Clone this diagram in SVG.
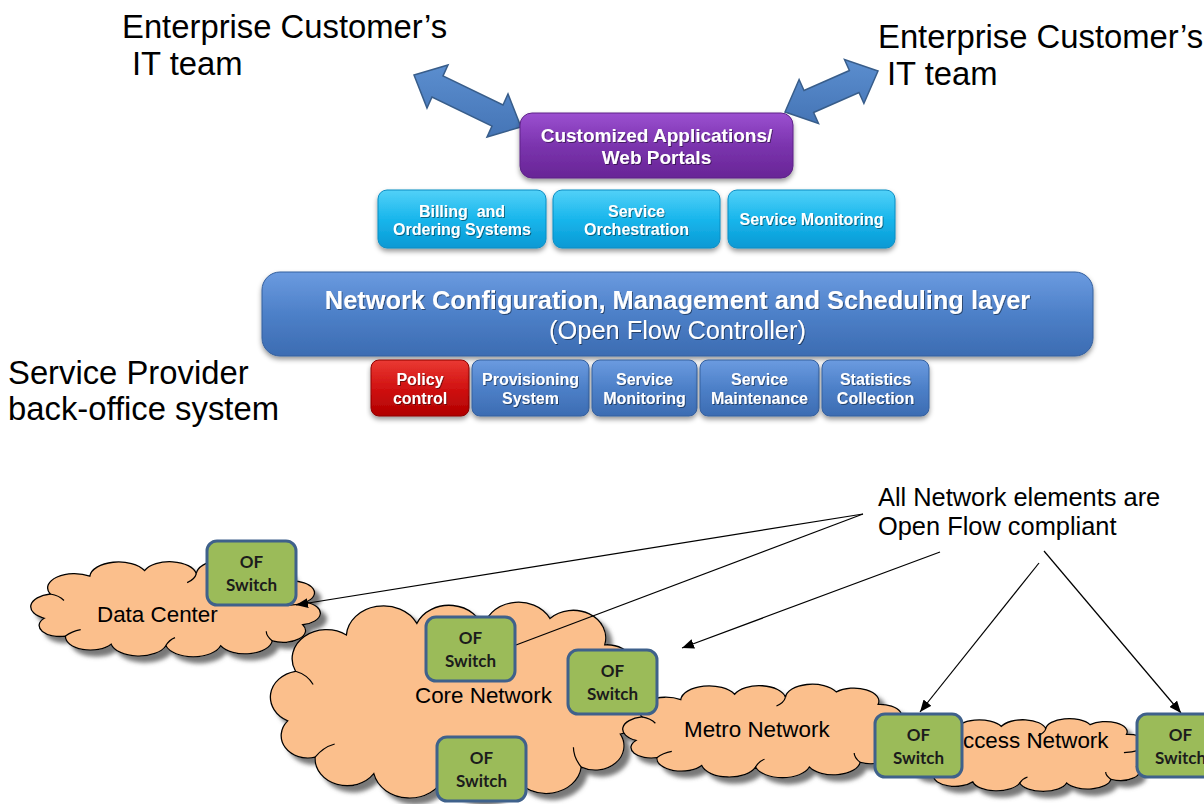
<svg xmlns="http://www.w3.org/2000/svg" width="1204" height="804" viewBox="0 0 1204 804">
  <defs>
    <style>
      .lbl { font-family: "Liberation Sans", Arial, sans-serif; fill: #000; }
      .big { font-size: 32.8px; }
      .note { font-size: 25.4px; }
      .cl { font-size: 22.4px; }
      .wb { font-family: "Liberation Sans", Arial, sans-serif; font-weight: bold; fill: #fff; text-anchor: middle; }
      .wr { font-family: "Liberation Sans", Arial, sans-serif; fill: #fff; text-anchor: middle; }
      .sw { font-family: Lato, "Open Sans", sans-serif; font-weight: bold; font-size: 17px; fill: #1c1c1c; text-anchor: middle; }
      .swbox { fill: #9bbb59; stroke: #3f618b; stroke-width: 3; }
      .cloud { fill: #fbbf8c; stroke: #000; stroke-width: 1.3; }
      .crease { fill: none; stroke: #000; stroke-width: 1.2; }
      .conn { fill: none; stroke: #000; stroke-width: 1.2; }
      .arrow2 { fill: url(#arrowGrad); stroke: #385d8a; stroke-width: 1.5; stroke-linejoin: miter; }
    </style>
    <linearGradient id="purpleGrad" x1="0" y1="0" x2="0" y2="1">
      <stop offset="0" stop-color="#9b4fd0"/>
      <stop offset="0.5" stop-color="#7b34ae"/>
      <stop offset="1" stop-color="#682596"/>
    </linearGradient>
    <linearGradient id="cyanGrad" x1="0" y1="0" x2="0" y2="1">
      <stop offset="0" stop-color="#52d1f8"/>
      <stop offset="0.5" stop-color="#19b6ec"/>
      <stop offset="1" stop-color="#0799d4"/>
    </linearGradient>
    <linearGradient id="blueGrad" x1="0" y1="0" x2="0" y2="1">
      <stop offset="0" stop-color="#6b9be0"/>
      <stop offset="0.5" stop-color="#4d80c8"/>
      <stop offset="1" stop-color="#3c6cb2"/>
    </linearGradient>
    <linearGradient id="redGrad" x1="0" y1="0" x2="0" y2="1">
      <stop offset="0" stop-color="#ea3a33"/>
      <stop offset="0.5" stop-color="#d11212"/>
      <stop offset="1" stop-color="#b00000"/>
    </linearGradient>
    <linearGradient id="arrowGrad" x1="0" y1="0" x2="0" y2="1">
      <stop offset="0" stop-color="#5b8ecf"/>
      <stop offset="1" stop-color="#4575b6"/>
    </linearGradient>
    <filter id="cloudShadow" x="-10%" y="-10%" width="130%" height="140%">
      <feDropShadow dx="6" dy="6" stdDeviation="2" flood-color="#6a6a6a" flood-opacity="0.9"/>
    </filter>
    <filter id="boxShadow" x="-5%" y="-10%" width="110%" height="140%">
      <feDropShadow dx="0" dy="3" stdDeviation="2.5" flood-color="#000" flood-opacity="0.4"/>
    </filter>
    <filter id="txtShadow" x="-5%" y="-20%" width="110%" height="150%">
      <feDropShadow dx="1" dy="1" stdDeviation="0.6" flood-color="#000" flood-opacity="0.45"/>
    </filter>
    <marker id="head" viewBox="0 0 12 10" refX="12" refY="5" markerWidth="12" markerHeight="10" markerUnits="userSpaceOnUse" orient="auto">
      <path d="M0 0 L12 5 L0 10 Z" fill="#000"/>
    </marker>
  </defs>

  <rect width="1204" height="804" fill="#fff"/>

  <!-- free-standing labels -->
  <g id="labels" class="lbl">
    <text class="big" x="122" y="38">Enterprise Customer’s</text>
    <text class="big" x="132" y="75">IT team</text>
    <text class="big" x="878" y="48">Enterprise Customer’s</text>
    <text class="big" x="887" y="85">IT team</text>
    <text class="big" x="8" y="384">Service Provider</text>
    <text class="big" x="8" y="420">back-office system</text>
    <text class="note" x="878" y="506">All Network elements are</text>
    <text class="note" x="878" y="535">Open Flow compliant</text>
  </g>

  <!-- double-headed block arrows to the customer IT teams -->
  <g id="customer-arrows">
    <polygon class="arrow2" points="414,75 427,108 432,97 492,126 487,137 521,127 508,94 503,105 443,76 448,65"/>
    <polygon class="arrow2" points="785,112 818.5,123.5 813.6,112.5 859,92.5 863.9,103.5 878,71 844.5,59.5 849.4,70.5 804,90.5 799.1,79.5"/>
  </g>

  <!-- application layer -->
  <g id="portal">
    <rect x="520" y="113" width="273" height="65" rx="12" fill="url(#purpleGrad)" stroke="#5e2388" stroke-width="1" filter="url(#boxShadow)"/>
    <g filter="url(#txtShadow)">
      <text class="wb" x="656.5" y="142" font-size="19">Customized Applications/</text>
      <text class="wb" x="656.5" y="164" font-size="19">Web Portals</text>
    </g>
  </g>

  <g id="billing">
    <rect x="378" y="190" width="168" height="58" rx="9" fill="url(#cyanGrad)" stroke="#0a8cc2" stroke-width="1" filter="url(#boxShadow)"/>
    <g filter="url(#txtShadow)">
      <text class="wb" x="462" y="217" font-size="16" xml:space="preserve">Billing  and</text>
      <text class="wb" x="462" y="235" font-size="16">Ordering Systems</text>
    </g>
  </g>
  <g id="orchestration">
    <rect x="553" y="190" width="167" height="58" rx="9" fill="url(#cyanGrad)" stroke="#0a8cc2" stroke-width="1" filter="url(#boxShadow)"/>
    <g filter="url(#txtShadow)">
      <text class="wb" x="636.5" y="217" font-size="16">Service</text>
      <text class="wb" x="636.5" y="235" font-size="16">Orchestration</text>
    </g>
  </g>
  <g id="service-monitoring-app">
    <rect x="728" y="190" width="167" height="58" rx="9" fill="url(#cyanGrad)" stroke="#0a8cc2" stroke-width="1" filter="url(#boxShadow)"/>
    <g filter="url(#txtShadow)">
      <text class="wb" x="811.5" y="225" font-size="16">Service Monitoring</text>
    </g>
  </g>

  <!-- controller layer -->
  <g id="controller">
    <rect x="262" y="272" width="831" height="84" rx="18" fill="url(#blueGrad)" stroke="#35609e" stroke-width="1" filter="url(#boxShadow)"/>
    <g filter="url(#txtShadow)">
      <text class="wb" x="677.5" y="309" font-size="25.4">Network Configuration, Management and Scheduling layer</text>
      <text class="wr" x="677.5" y="339" font-size="25.4">(Open Flow Controller)</text>
    </g>
  </g>

  <g id="policy-control">
    <rect x="371" y="360" width="98" height="56" rx="8" fill="url(#redGrad)" stroke="#8e0000" stroke-width="1" filter="url(#boxShadow)"/>
    <g filter="url(#txtShadow)">
      <text class="wb" x="420" y="385" font-size="16">Policy</text>
      <text class="wb" x="420" y="404" font-size="16">control</text>
    </g>
  </g>
  <g id="provisioning">
    <rect x="472" y="360" width="117" height="56" rx="8" fill="url(#blueGrad)" stroke="#35609e" stroke-width="1" filter="url(#boxShadow)"/>
    <g filter="url(#txtShadow)">
      <text class="wb" x="530.5" y="385" font-size="16">Provisioning</text>
      <text class="wb" x="530.5" y="404" font-size="16">System</text>
    </g>
  </g>
  <g id="service-monitoring">
    <rect x="592" y="360" width="105" height="56" rx="8" fill="url(#blueGrad)" stroke="#35609e" stroke-width="1" filter="url(#boxShadow)"/>
    <g filter="url(#txtShadow)">
      <text class="wb" x="644.5" y="385" font-size="16">Service</text>
      <text class="wb" x="644.5" y="404" font-size="16">Monitoring</text>
    </g>
  </g>
  <g id="service-maintenance">
    <rect x="700" y="360" width="119" height="56" rx="8" fill="url(#blueGrad)" stroke="#35609e" stroke-width="1" filter="url(#boxShadow)"/>
    <g filter="url(#txtShadow)">
      <text class="wb" x="759.5" y="385" font-size="16">Service</text>
      <text class="wb" x="759.5" y="404" font-size="16">Maintenance</text>
    </g>
  </g>
  <g id="statistics">
    <rect x="822" y="360" width="107" height="56" rx="8" fill="url(#blueGrad)" stroke="#35609e" stroke-width="1" filter="url(#boxShadow)"/>
    <g filter="url(#txtShadow)">
      <text class="wb" x="875.5" y="385" font-size="16">Statistics</text>
      <text class="wb" x="875.5" y="404" font-size="16">Collection</text>
    </g>
  </g>

  <!-- network clouds: one outline drawn in a 200 x 120 box, scaled per cloud -->
  <g id="data-center">
    <g filter="url(#cloudShadow)">
      <path class="cloud" vector-effect="non-scaling-stroke" transform="translate(22.9 558.4) scale(1.521 0.809)" d="M14 74 A16 16 0 0 1 18 44 A17.6 17.6 0 0 1 44 22 A19 19 0 0 1 80 15 A17.8 17.8 0 0 1 114 19 A18 18 0 0 1 148 12 A16.7 16.7 0 0 1 176 28 A14.5 14.5 0 0 1 186 54 A14.6 14.6 0 0 1 184 82 A14.7 14.7 0 0 1 164 102 A18 18 0 0 1 130 108 A18.7 18.7 0 0 1 94 108 A18.7 18.7 0 0 1 58 106 A16.4 16.4 0 0 1 28 96 A13.6 13.6 0 0 1 14 74 Z"/>
    </g>
    <path class="crease" vector-effect="non-scaling-stroke" transform="translate(22.9 558.4) scale(1.521 0.809)" d="M18 44 Q24 46 27 52 M114 19 Q113 26 108 30 M186 54 Q180 58 174 58 M164 102 Q160 96 160 90 M94 108 Q96 101 100 98 M28 96 Q32 90 38 88"/>
    <text class="lbl cl" x="97" y="622">Data Center</text>
  </g>

  <g id="core-network">
    <g filter="url(#cloudShadow)">
      <path class="cloud" vector-effect="non-scaling-stroke" transform="translate(260.3 598.6) scale(1.957 1.652)" d="M14 74 A16 16 0 0 1 18 44 A17.6 17.6 0 0 1 44 22 A19 19 0 0 1 80 15 A17.8 17.8 0 0 1 114 19 A18 18 0 0 1 148 12 A16.7 16.7 0 0 1 176 28 A14.5 14.5 0 0 1 186 54 A14.6 14.6 0 0 1 184 82 A14.7 14.7 0 0 1 164 102 A18 18 0 0 1 130 108 A18.7 18.7 0 0 1 94 108 A18.7 18.7 0 0 1 58 106 A16.4 16.4 0 0 1 28 96 A13.6 13.6 0 0 1 14 74 Z"/>
    </g>
    <path class="crease" vector-effect="non-scaling-stroke" transform="translate(260.3 598.6) scale(1.957 1.652)" d="M18 44 Q24 46 27 52 M114 19 Q113 26 108 30 M186 54 Q180 58 174 58 M164 102 Q160 96 160 90 M94 108 Q96 101 100 98 M28 96 Q32 90 38 88"/>
    <text class="lbl cl" x="415" y="703">Core Network</text>
  </g>

  <g id="metro-network">
    <g filter="url(#cloudShadow)">
      <path class="cloud" vector-effect="non-scaling-stroke" transform="translate(615 682.5) scale(1.495 0.783)" d="M14 74 A16 16 0 0 1 18 44 A17.6 17.6 0 0 1 44 22 A19 19 0 0 1 80 15 A17.8 17.8 0 0 1 114 19 A18 18 0 0 1 148 12 A16.7 16.7 0 0 1 176 28 A14.5 14.5 0 0 1 186 54 A14.6 14.6 0 0 1 184 82 A14.7 14.7 0 0 1 164 102 A18 18 0 0 1 130 108 A18.7 18.7 0 0 1 94 108 A18.7 18.7 0 0 1 58 106 A16.4 16.4 0 0 1 28 96 A13.6 13.6 0 0 1 14 74 Z"/>
    </g>
    <path class="crease" vector-effect="non-scaling-stroke" transform="translate(615 682.5) scale(1.495 0.783)" d="M18 44 Q24 46 27 52 M114 19 Q113 26 108 30 M186 54 Q180 58 174 58 M164 102 Q160 96 160 90 M94 108 Q96 101 100 98 M28 96 Q32 90 38 88"/>
    <text class="lbl cl" x="684" y="737">Metro Network</text>
  </g>

  <g id="access-network">
    <g filter="url(#cloudShadow)">
      <path class="cloud" vector-effect="non-scaling-stroke" transform="translate(897.2 717.3) scale(1.303 0.609)" d="M14 74 A16 16 0 0 1 18 44 A17.6 17.6 0 0 1 44 22 A19 19 0 0 1 80 15 A17.8 17.8 0 0 1 114 19 A18 18 0 0 1 148 12 A16.7 16.7 0 0 1 176 28 A14.5 14.5 0 0 1 186 54 A14.6 14.6 0 0 1 184 82 A14.7 14.7 0 0 1 164 102 A18 18 0 0 1 130 108 A18.7 18.7 0 0 1 94 108 A18.7 18.7 0 0 1 58 106 A16.4 16.4 0 0 1 28 96 A13.6 13.6 0 0 1 14 74 Z"/>
    </g>
    <path class="crease" vector-effect="non-scaling-stroke" transform="translate(897.2 717.3) scale(1.303 0.609)" d="M18 44 Q24 46 27 52 M114 19 Q113 26 108 30 M186 54 Q180 58 174 58 M164 102 Q160 96 160 90 M94 108 Q96 101 100 98 M28 96 Q32 90 38 88"/>
    <text class="lbl cl" x="948" y="748">Access Network</text>
  </g>

  <!-- callout connectors -->
  <g id="connectors">
    <line class="conn" x1="863" y1="514" x2="296" y2="605" marker-end="url(#head)"/>
    <line class="conn" x1="863" y1="514" x2="516" y2="645"/>
    <line class="conn" x1="940" y1="552" x2="682" y2="648" marker-end="url(#head)"/>
    <line class="conn" x1="1039" y1="563" x2="920" y2="712" marker-end="url(#head)"/>
    <line class="conn" x1="1044" y1="551" x2="1181" y2="713" marker-end="url(#head)"/>
  </g>

  <!-- OpenFlow switches -->
  <g id="switch-dc">
    <rect class="swbox" x="207" y="541" width="89" height="64" rx="10"/>
    <text class="sw" x="251.5" y="568">OF</text>
    <text class="sw" x="251.5" y="591">Switch</text>
  </g>
  <g id="switch-core-top">
    <rect class="swbox" x="426" y="617" width="89" height="64" rx="10"/>
    <text class="sw" x="470.5" y="644">OF</text>
    <text class="sw" x="470.5" y="667">Switch</text>
  </g>
  <g id="switch-core-right">
    <rect class="swbox" x="568" y="650" width="89" height="64" rx="10"/>
    <text class="sw" x="612.5" y="677">OF</text>
    <text class="sw" x="612.5" y="700">Switch</text>
  </g>
  <g id="switch-core-bottom">
    <rect class="swbox" x="437" y="737" width="89" height="64" rx="10"/>
    <text class="sw" x="481.5" y="764">OF</text>
    <text class="sw" x="481.5" y="787">Switch</text>
  </g>
  <g id="switch-access-left">
    <rect class="swbox" x="875" y="714" width="87" height="63" rx="10"/>
    <text class="sw" x="918.5" y="741">OF</text>
    <text class="sw" x="918.5" y="764">Switch</text>
  </g>
  <g id="switch-access-right">
    <rect class="swbox" x="1137" y="714" width="87" height="63" rx="10"/>
    <text class="sw" x="1180.5" y="741">OF</text>
    <text class="sw" x="1180.5" y="764">Switch</text>
  </g>
</svg>
